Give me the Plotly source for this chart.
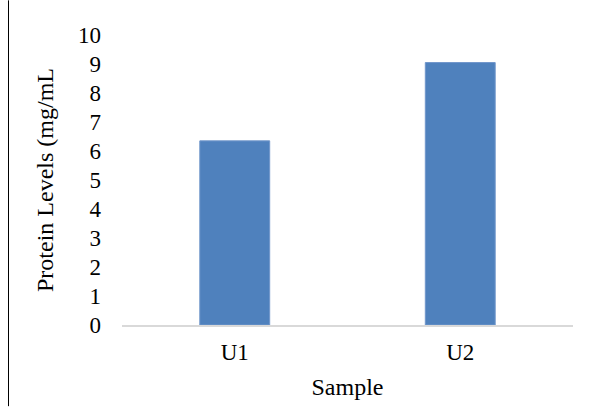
import plotly.graph_objects as go

# Sample protein measurements
samples = ["U1", "U2"]
protein_levels = [6.35, 9.05]
y_ticks = list(range(0, 11))

FONT = "Liberation Serif, Times New Roman, serif"

fig = go.Figure(
    go.Bar(
        x=samples,
        y=protein_levels,
        width=0.31,
        marker=dict(color="#4f81bd", line=dict(color="#7197cb", width=1)),
    )
)

fig.update_layout(
    width=598,
    height=408,
    margin=dict(l=122, r=25, t=35, b=80),
    paper_bgcolor="white",
    plot_bgcolor="white",
    showlegend=False,
    font=dict(family=FONT, size=23, color="black"),
    xaxis=dict(
        range=[-0.5, 1.5],
        showline=True,
        linecolor="#d9d9d9",
        linewidth=2,
        ticks="",
        showgrid=False,
        tickfont=dict(size=23),
        ticklabelstandoff=5,
        title=dict(text="Sample", font=dict(size=24), standoff=15),
    ),
    yaxis=dict(
        range=[0, 10],
        tickvals=y_ticks,
        showline=False,
        showgrid=False,
        zeroline=False,
        ticks="",
        tickfont=dict(size=23),
        ticklabelstandoff=20,
        title=dict(text="Protein Levels (mg/mL", font=dict(size=24), standoff=17),
    ),
    shapes=[
        dict(
            type="line",
            xref="paper",
            yref="paper",
            x0=(8.5 - 122) / 451,
            x1=(8.5 - 122) / 451,
            y0=(328 - 410) / 293,
            y1=328 / 293,
            line=dict(color="black", width=1),
        )
    ],
)

fig.write_html("out.html")
